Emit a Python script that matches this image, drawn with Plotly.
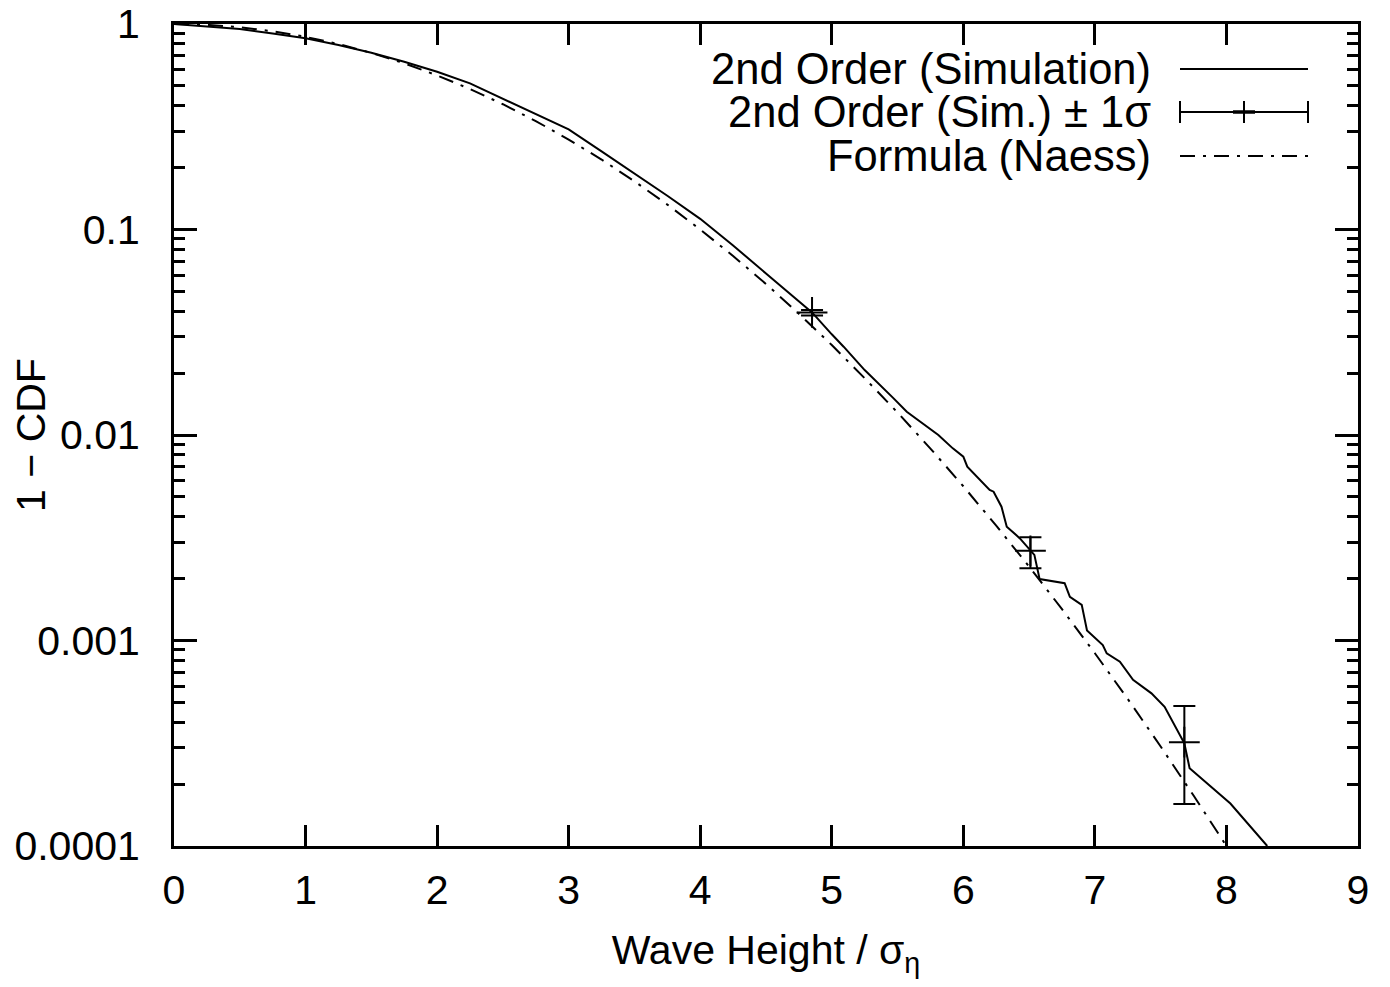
import plotly.graph_objects as go

# Datos
sim_x = [0, 0.25, 0.5, 0.75, 1.0, 1.25, 1.5, 1.75, 2.0, 2.25, 2.5, 2.75, 3.0, 3.25, 3.5,
         3.75, 4.0, 4.25, 4.5, 4.75, 4.85, 5.0, 5.09, 5.25, 5.37, 5.47, 5.57, 5.67, 5.72,
         5.81, 5.92, 6.0, 6.03, 6.1, 6.2, 6.23, 6.29, 6.33, 6.43, 6.54, 6.56, 6.58, 6.77,
         6.81, 6.9, 6.94, 7.06, 7.09, 7.19, 7.29, 7.43, 7.53, 7.68, 7.72, 8.03, 8.31]
sim_y = [1.0, 0.975, 0.945, 0.90, 0.852, 0.79, 0.725, 0.655, 0.586, 0.514, 0.433, 0.365,
         0.307, 0.240, 0.1875, 0.146, 0.1127, 0.0836, 0.0611, 0.0447, 0.0395, 0.0309,
         0.0269, 0.0207, 0.0175, 0.01508, 0.01297, 0.01161, 0.01097, 0.0100, 0.00861,
         0.00784, 0.00701, 0.00627, 0.00540, 0.00530, 0.00448, 0.00358, 0.00314, 0.00261,
         0.00229, 0.00199, 0.00190, 0.00163, 0.00149, 0.00112, 0.000951, 0.000866,
         0.000789, 0.000643, 0.000553, 0.000476, 0.000316, 0.000239, 0.000161, 0.0001]

# barras de error (+/- 1 sigma)
err_x = [4.85, 6.51, 7.68]
err_y = [0.0395, 0.00273, 0.00032]
err_hi = [0.0406, 0.00318, 0.00048]
err_lo = [0.0382, 0.00225, 0.00016]

# formula de Naess
naess_x = [0, 0.25, 0.5, 0.75, 1.0, 1.25, 1.5, 1.75, 2.0, 2.25, 2.5, 2.75, 3.0, 3.25, 3.5,
           3.75, 4.0, 4.25, 4.5, 4.75, 5.0, 5.25, 5.5, 5.75, 6.0, 6.25, 6.5, 6.75, 7.0,
           7.25, 7.5, 7.75, 8.0]
naess_y = [1.0, 0.991, 0.965, 0.922, 0.866, 0.799, 0.723, 0.644, 0.562, 0.483, 0.407,
           0.337, 0.274, 0.219, 0.1716, 0.1322, 0.1000, 0.0743, 0.0543, 0.0389, 0.0274,
           0.0189, 0.01286, 0.00859, 0.00563, 0.00362, 0.00229, 0.00142, 0.000867,
           0.000519, 0.000305, 0.000176, 0.0001]

y_ticks = [0.0001, 0.001, 0.01, 0.1, 1]
y_tick_text = ["0.0001", "0.001", "0.01", "0.1", "1"]

FONT = "Liberation Sans, Arial, Helvetica, sans-serif"

fig = go.Figure()

fig.add_trace(go.Scatter(x=naess_x, y=naess_y, mode="lines",
                         line=dict(color="black", width=2, dash="15px,8px,3px,8px")))
fig.add_trace(go.Scatter(x=sim_x, y=sim_y, mode="lines",
                         line=dict(color="black", width=2)))
fig.add_trace(go.Scatter(
    x=err_x, y=err_y, mode="markers",
    marker=dict(symbol="cross-thin", size=22, color="black",
                line=dict(color="black", width=2)),
    error_y=dict(type="data", symmetric=False,
                 array=[h - c for h, c in zip(err_hi, err_y)],
                 arrayminus=[c - l for c, l in zip(err_y, err_lo)],
                 color="black", thickness=2, width=11)))

# tamaño de la figura (la pagina tiene 8px de margen en el body)
W, H = 1374, 971
L, R, T, B = 166, 24, 16, 133
OFF = 8  # desplazamiento de la pagina


def px(xp):
    # pixel de la ventana -> coordenada paper
    return (xp - OFF - L) / (W - L - R)


def py(yp):
    return (H - B - (yp - OFF)) / (H - T - B)


# leyenda estilo gnuplot (texto a la izquierda, muestra a la derecha)
labels = ["2nd Order (Simulation)", "2nd Order (Sim.) ± 1σ", "Formula (Naess)"]
rows = [69, 112, 156]
for txt, r in zip(labels, rows):
    fig.add_annotation(x=px(1152), y=py(r), xref="paper", yref="paper", text=txt,
                       showarrow=False, xanchor="right", yanchor="middle", borderpad=0,
                       font=dict(size=43.5, color="black", family=FONT))

line_style = dict(color="black", width=2)
fig.add_shape(type="line", xref="paper", yref="paper", x0=px(1180), x1=px(1308),
              y0=py(rows[0]), y1=py(rows[0]), line=line_style)
fig.add_shape(type="line", xref="paper", yref="paper", x0=px(1180), x1=px(1308),
              y0=py(rows[1]), y1=py(rows[1]), line=line_style)
for xc in [1180, 1308, 1244]:
    fig.add_shape(type="line", xref="paper", yref="paper", x0=px(xc), x1=px(xc),
                  y0=py(rows[1] - 11), y1=py(rows[1] + 11), line=line_style)
fig.add_shape(type="line", xref="paper", yref="paper", x0=px(1233), x1=px(1255),
              y0=py(rows[1]), y1=py(rows[1]), line=dict(color="black", width=3.5))
fig.add_shape(type="line", xref="paper", yref="paper", x0=px(1180), x1=px(1308),
              y0=py(rows[2]), y1=py(rows[2]),
              line=dict(color="black", width=2, dash="15px,8px,3px,8px"))

fig.update_layout(
    width=W, height=H,
    margin=dict(l=L, r=R, t=T, b=B, pad=0),
    plot_bgcolor="white", paper_bgcolor="white",
    showlegend=False,
    font=dict(family=FONT, size=41, color="black"),
    xaxis=dict(
        range=[0, 9], dtick=1, tick0=0, automargin=False,
        ticks="inside", ticklen=21, tickwidth=2.5, tickcolor="black",
        showline=True, linewidth=3, linecolor="black", mirror="ticks",
        showgrid=False, zeroline=False, ticklabeloverflow="allow",
        tickfont=dict(size=41), ticklabelstandoff=6,
        title=dict(text="Wave Height / σ<sub>η</sub>", font=dict(size=41), standoff=24),
    ),
    yaxis=dict(
        type="log", range=[-4, 0], automargin=False,
        tickvals=y_ticks, ticktext=y_tick_text,
        ticks="inside", ticklen=23, tickwidth=2.5, tickcolor="black",
        minor=dict(ticks="inside", ticklen=11, tickwidth=2.5, tickcolor="black",
                   tickvals=[m * 10 ** e for e in range(-4, 0) for m in range(2, 10)],
                   showgrid=False),
        showline=True, linewidth=3, linecolor="black", mirror="ticks",
        showgrid=False, zeroline=False, ticklabeloverflow="allow",
        tickfont=dict(size=41), ticklabelstandoff=23,
        title=dict(text="1 − CDF", font=dict(size=41), standoff=17),
    ),
)

fig.write_html("out.html")
